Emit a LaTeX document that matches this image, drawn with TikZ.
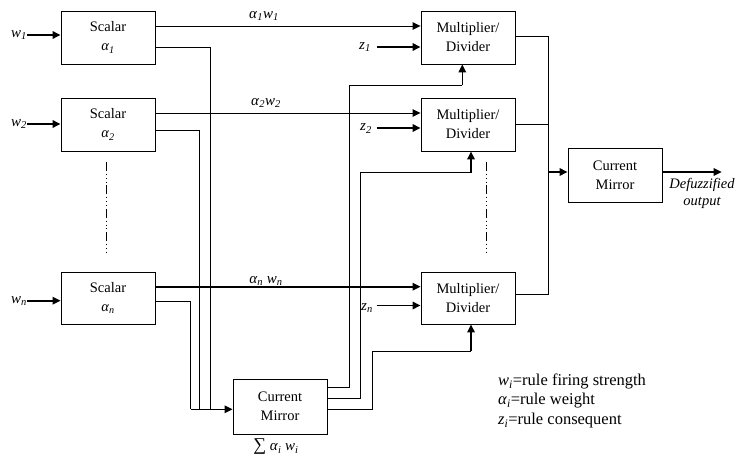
\documentclass[tikz,border=0pt]{standalone}
\usepackage{fontspec}
\setmainfont{Liberation Serif}
\usetikzlibrary{arrows.meta}
\newcommand{\isub}[2]{\textit{#1}\textsubscript{\textit{#2}}}
\tikzset{
  box/.style={draw, line width=0.9pt, minimum width=94pt, minimum height=53pt, align=center, inner sep=0pt, font=\fontsize{14.5}{19}\selectfont},
  wire/.style={line width=0.9pt},
  arr/.style={line width=1.6pt, -{Triangle[length=8pt,width=7.5pt]}},
  tarr/.style={line width=0.9pt, -{Triangle[length=8pt,width=7.5pt]}},
  lbl/.style={inner sep=0pt, font=\fontsize{15}{17}\selectfont},
  dotline/.style={line width=0.7pt, dash pattern=on 9pt off 3pt on 0.8pt off 3pt on 0.8pt off 3pt on 0.8pt off 3pt},
}
\begin{document}
\begin{tikzpicture}[x=1pt,y=-1pt]
\useasboundingbox (0,0) rectangle (738,457);
% boxes
\node[box] (s1) at (108,37.5) {Scalar\\\isub{α}{1}};
\node[box] (s2) at (108,124.5) {Scalar\\\isub{α}{2}};
\node[box, minimum height=52pt] (sn) at (108,298) {Scalar\\\isub{α}{n}};
\node[box] (m1) at (468,37.5) {Multiplier/\\Divider};
\node[box] (m2) at (468,124.5) {Multiplier/\\Divider};
\node[box, minimum height=52pt] (mn) at (468,298) {Multiplier/\\Divider};
\node[box, minimum height=55pt] (cm) at (280,406.7) {Current\\Mirror};
\node[box, minimum height=54pt] (cm2) at (615,175) {Current\\Mirror};
% inputs w
\node[lbl, anchor=east] (w1) at (27,35) {\isub{w}{1}};
\node[lbl, anchor=east] (w2) at (27,124) {\isub{w}{2}};
\node[lbl, anchor=east] (wn) at (27,300.7) {\isub{w}{n}};
\draw[arr] (w1.east) -- (s1.west |- w1.east);
\draw[arr] (w2.east) -- (s2.west |- w2.east);
\draw[arr] (wn.east) -- (sn.west |- wn.east);
% weighted outputs
\draw[tarr] ([yshift=11.5pt]s1.east) -- ([yshift=11.5pt]m1.west);
\draw[tarr] ([yshift=11.5pt]s2.east) -- ([yshift=11.5pt]m2.west);
\draw[arr] ([yshift=11.3pt]sn.east) -- ([yshift=11.3pt]mn.west);
\node[lbl] (l1) at (264,16) {\isub{α}{1}\isub{w}{1}};
\node[lbl] (l2) at (266,103) {\isub{α}{2}\isub{w}{2}};
\node[lbl] (ln) at (266,281) {\isub{α}{n} \isub{w}{n}};
% to current mirror
\coordinate (j) at (190.7,409.3);
\draw[wire] ([yshift=-9.5pt]s1.east) -| (210.7,409.3);
\draw[wire] ([yshift=-5.5pt]s2.east) -| (199,409.3);
\draw[wire] ([yshift=-3.7pt]sn.east) -| (j);
\draw[arr] (j) -- (cm.west |- j);
\node[lbl] (sum) at (276,447) {{\fontsize{18}{18}\selectfont ∑} \isub{α}{i} \isub{w}{i}};
% current mirror outputs
\coordinate (c1) at (462.3,85.3);
\coordinate (c2) at (471,172.7);
\coordinate (c3) at (471,351);
\draw[wire] ([yshift=19pt]cm.east) -| (349,85.3) -- (c1);
\draw[arr] (c1) -- (m1.south -| c1);
\draw[wire] ([yshift=8.4pt]cm.east) -| (360.7,172.7) -- (c2);
\draw[arr] (c2) -- (m2.south -| c2);
\draw[wire] ([yshift=-2.6pt]cm.east) -| (372.7,351) -- (c3);
\draw[arr] (c3) -- (mn.south -| c3);
% z inputs
\node[lbl, anchor=east] (z1) at (371,47) {\isub{z}{1}};
\node[lbl, anchor=east] (z2) at (372,128.5) {\isub{z}{2}};
\node[lbl, anchor=east] (zn) at (373,308) {\isub{z}{n}};
\draw[arr] (376.7,47) -- ([yshift=-9.5pt]m1.west);
\draw[arr] (376.7,128) -- ([yshift=-3.5pt]m2.west);
\draw[arr] (376.7,305.5) -- ([yshift=-7.5pt]mn.west);
% multiplier outputs
\coordinate (b1) at (548.3,36);
\coordinate (bn) at (548.3,294.3);
\coordinate (bj) at (548.3,172);
\draw[wire] ([yshift=1.5pt]m1.east) -- (b1) -- (bn) -- ([yshift=3.7pt]mn.east);
\draw[wire] (m2.east) -- (m2.east -| b1);
\draw[arr] (bj) -- (cm2.west |- bj);
\coordinate (out) at (721.7,172);
\draw[arr] (cm2.east |- out) -- (out);
\node[lbl, align=center, font=\fontsize{14.5}{17}\itshape] (dout) at (702,193) {Defuzzified\\output};
% dotted continuation
\draw[dotline] (106,162) -- (106,253);
\draw[dotline] (486,162) -- (486,253);
% legend
\node[lbl, anchor=west, font=\fontsize{16.5}{19.5}\selectfont] (leg1) at (498,381.7) {\isub{w}{i}=rule firing strength};
\node[lbl, anchor=west, font=\fontsize{16.5}{19.5}\selectfont] (leg2) at (498,401) {\isub{α}{i}=rule weight};
\node[lbl, anchor=west, font=\fontsize{16.5}{19.5}\selectfont] (leg3) at (498,420.7) {\isub{z}{i}=rule consequent};
\end{tikzpicture}
\end{document}
